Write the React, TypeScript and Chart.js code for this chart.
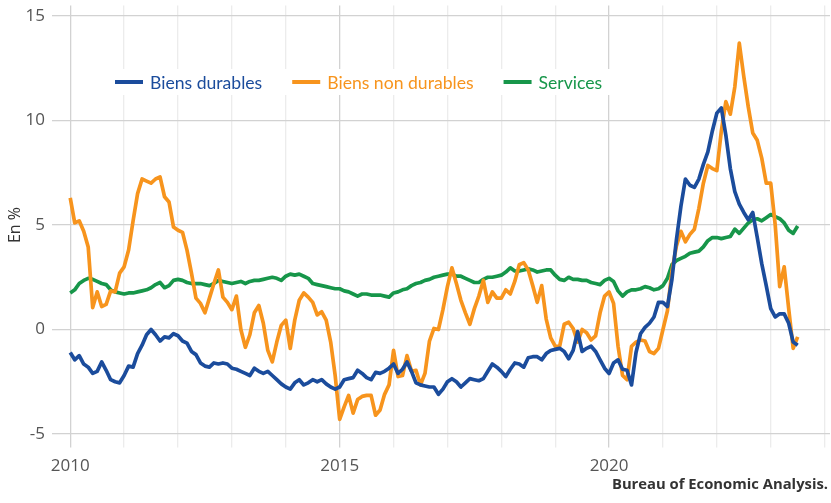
import React, { useEffect, useRef } from "react";
import { Chart, registerables } from "chart.js";

Chart.register(...registerables);

// Monthly year-over-year change, Jan 2010 onwards
const startYear = 2010;

const durables = [
  -1.1, -1.45, -1.25, -1.65, -1.8, -2.1, -2.0, -1.55, -1.95, -2.4, -2.5, -2.55,
  -2.2, -1.75, -1.8, -1.15, -0.75, -0.25, 0.0, -0.25, -0.55, -0.35, -0.4, -0.2,
  -0.3, -0.55, -0.65, -1.05, -1.2, -1.6, -1.75, -1.8, -1.6, -1.65, -1.6, -1.65,
  -1.85, -1.9, -2.0, -2.1, -2.2, -1.85, -2.0, -2.1, -2.0, -2.2, -2.4, -2.6,
  -2.75, -2.85, -2.55, -2.4, -2.65, -2.55, -2.4, -2.5, -2.4, -2.6, -2.75, -2.85,
  -2.75, -2.4, -2.35, -2.3, -1.95, -2.1, -2.3, -2.4, -2.05, -2.1, -2.0, -1.85,
  -1.65, -2.1, -1.9, -1.55, -2.0, -2.55, -2.65, -2.7, -2.75, -2.75, -3.1, -2.85,
  -2.5, -2.35, -2.5, -2.75, -2.55, -2.35, -2.4, -2.45, -2.35, -2.0, -1.65, -1.8,
  -2.0, -2.25, -1.9, -1.6, -1.65, -1.8, -1.35, -1.3, -1.3, -1.45, -1.15, -1.0,
  -0.95, -0.9, -1.05, -1.4, -1.0, -0.1, -1.05, -0.9, -0.8, -1.05, -1.45, -1.85,
  -2.1, -1.6, -1.45, -1.9, -1.95, -2.65, -1.1, -0.2, 0.1, 0.3, 0.6, 1.3,
  1.3, 1.1, 2.4, 4.3, 5.9, 7.2, 6.9, 6.8, 7.2, 7.9, 8.5, 9.5,
  10.35, 10.6, 9.3, 7.7, 6.6, 6.0, 5.6, 5.25, 5.6, 4.4, 3.15, 2.1,
  1.0, 0.6, 0.75, 0.75, 0.3, -0.6, -0.75,
];

const nonDurables = [
  6.3, 5.1, 5.2, 4.7, 3.95, 1.05, 1.8, 1.1, 1.2, 1.85, 1.8, 2.7,
  3.0, 3.8, 5.2, 6.5, 7.2, 7.1, 7.0, 7.2, 7.3, 6.35, 6.1, 4.9,
  4.75, 4.65, 3.8, 2.7, 1.5, 1.25, 0.8, 1.5, 2.2, 2.85, 1.55, 1.3,
  0.95, 1.6, 0.0, -0.85, -0.25, 0.8, 1.15, 0.3, -1.0, -1.55, -0.6, 0.2,
  0.45, -0.9, 0.45, 1.4, 1.75, 1.55, 1.3, 0.7, 0.85, 0.45, -0.6, -2.2,
  -4.3, -3.7, -3.15, -4.0, -3.35, -3.2, -3.15, -3.15, -4.1, -3.85, -3.1, -2.65,
  -1.0, -2.25, -2.2, -1.25, -2.0, -1.95, -2.65, -2.1, -0.55, 0.05, 0.0, 0.95,
  2.05, 2.95, 2.2, 1.4, 0.8, 0.25, 1.0, 1.6, 2.35, 1.3, 1.8, 1.5,
  1.5, 1.9, 1.7, 2.3, 3.1, 3.2, 2.85, 2.1, 1.3, 2.1, 0.5, -0.4,
  -0.8, -0.8, 0.25, 0.35, 0.05, -0.6, 0.0, -0.15, -0.5, -0.3, 0.8, 1.6,
  1.8, 1.25, -0.8, -2.2, -2.4, -0.8, -0.6, -0.5, -0.55, -1.05, -1.15, -0.9,
  0.0, 0.9, 2.8, 4.0, 4.7, 4.2, 4.55, 4.8, 5.8, 7.0, 7.85, 7.7,
  7.6, 9.5, 10.9, 10.3, 11.6, 13.7, 12.1, 10.65, 9.4, 9.05, 8.2, 7.0,
  7.0, 5.0, 2.05, 3.0, 1.0, -0.9, -0.35,
];

const services = [
  1.75, 1.9, 2.2, 2.35, 2.45, 2.4, 2.3, 2.2, 2.15, 1.9, 1.8, 1.75,
  1.7, 1.75, 1.75, 1.8, 1.85, 1.9, 2.0, 2.15, 2.25, 2.0, 2.1, 2.35,
  2.4, 2.35, 2.25, 2.2, 2.2, 2.2, 2.15, 2.1, 2.2, 2.35, 2.3, 2.25,
  2.2, 2.25, 2.3, 2.2, 2.3, 2.35, 2.35, 2.4, 2.45, 2.5, 2.45, 2.35,
  2.55, 2.65, 2.6, 2.65, 2.55, 2.45, 2.2, 2.15, 2.1, 2.05, 2.0, 1.95,
  1.95, 1.85, 1.8, 1.7, 1.6, 1.7, 1.7, 1.65, 1.65, 1.65, 1.6, 1.55,
  1.75, 1.8, 1.9, 1.95, 2.1, 2.2, 2.25, 2.35, 2.4, 2.5, 2.55, 2.6,
  2.65, 2.65, 2.55, 2.55, 2.45, 2.35, 2.25, 2.25, 2.4, 2.5, 2.5, 2.55,
  2.6, 2.75, 2.95, 2.8, 2.8, 2.85, 2.9, 2.85, 2.75, 2.8, 2.85, 2.85,
  2.6, 2.4, 2.35, 2.5, 2.4, 2.4, 2.35, 2.35, 2.25, 2.2, 2.15, 2.35,
  2.45, 2.3, 1.85, 1.6, 1.8, 1.9, 1.9, 1.95, 2.05, 2.0, 1.9, 1.95,
  2.1, 2.45, 3.1, 3.3, 3.4, 3.5, 3.65, 3.7, 3.75, 3.95, 4.25, 4.4,
  4.4, 4.35, 4.4, 4.45, 4.8, 4.6, 4.85, 5.1, 5.25, 5.3, 5.2, 5.35,
  5.5, 5.4, 5.3, 5.1, 4.75, 4.6, 4.95,
];

const seriesNames = ["Biens durables", "Biens non durables", "Services"];
const seriesColors = ["#1b4c9c", "#f7941d", "#17964a"];
const yearTicks = [2010, 2011, 2012, 2013, 2014, 2015, 2016, 2017, 2018, 2019, 2020, 2021, 2022, 2023, 2024];
const labeledYears = [2010, 2015, 2020];
const yTicks = [-5, 0, 5, 10, 15];
const yTitle = "En %";
const sourceText = "Bureau of Economic Analysis.";

const toPoints = (vals: number[]) =>
  vals.map((v, i) => ({ x: startYear + i / 12, y: v }));

const legendPlugin = {
  id: "customLegend",
  afterDraw(chart: any) {
    const { ctx, chartArea } = chart;
    ctx.save();
    ctx.font = '17.6px "Lato"';
    const y = 82;
    let x = chartArea.left + 55;
    const startX = x;
    let total = 0;
    seriesNames.forEach((n, i) => {
      total += 28 + 7 + ctx.measureText(n).width + (i < seriesNames.length - 1 ? 30 : 0);
    });
    ctx.fillStyle = "#ffffff";
    ctx.fillRect(startX - 8, y - 13, total + 18, 26);
    seriesNames.forEach((n, i) => {
      ctx.fillStyle = seriesColors[i];
      ctx.fillRect(x, y - 2, 28, 4);
      x += 35;
      ctx.textBaseline = "middle";
      ctx.textAlign = "left";
      ctx.fillText(n, x, y + 1);
      x += ctx.measureText(n).width + 30;
    });
    ctx.font = 'bold 14.8px "Open Sans"';
    ctx.fillStyle = "#333333";
    ctx.textAlign = "right";
    ctx.textBaseline = "middle";
    ctx.fillText(sourceText, chart.width - 3, 485);
    ctx.restore();
  },
};

export default function App() {
  const canvasRef = useRef<HTMLCanvasElement | null>(null);

  useEffect(() => {
    if (!canvasRef.current) return;
    const datasets = [durables, nonDurables, services].map((vals, i) => ({
      label: seriesNames[i],
      data: toPoints(vals),
      borderColor: seriesColors[i],
      backgroundColor: seriesColors[i],
      borderWidth: 3.7,
      pointRadius: 0,
      tension: 0,
      fill: false,
      borderJoinStyle: "round" as const,
    }));
    const chart = new Chart(canvasRef.current, {
      type: "line",
      data: { datasets },
      plugins: [legendPlugin],
      options: {
        animation: false,
        responsive: false,
        devicePixelRatio: 1,
        layout: { padding: { top: 5.5, right: 1, bottom: 27.5, left: 0 } },
        plugins: {
          legend: { display: false },
          tooltip: { enabled: false },
        },
        scales: {
          x: {
            type: "linear",
            min: 2009.81,
            max: 2024.1,
            afterBuildTicks: (s: any) => {
              s.ticks = yearTicks.map((v) => ({ value: v }));
            },
            afterFit: (s: any) => {
              s.height = 31;
              s.paddingLeft = 0;
              s.paddingRight = 0;
            },
            ticks: {
              autoSkip: false,
              maxRotation: 0,
              padding: 8,
              color: "#555555",
              font: { family: "Open Sans", size: 17 },
              callback: (v: any) => (labeledYears.includes(Number(v)) ? String(v) : ""),
            },
            grid: {
              color: (c: any) =>
                c.tick && labeledYears.includes(c.tick.value) ? "#d2d2d2" : "#ececec",
              lineWidth: 1.3,
              tickLength: 3,
            },
            border: { display: false },
          },
          y: {
            type: "linear",
            min: -5.5,
            max: 15.5,
            afterBuildTicks: (s: any) => {
              s.ticks = yTicks.map((v) => ({ value: v }));
            },
            afterFit: (s: any) => {
              s.width = 60;
              s.paddingTop = 0;
              s.paddingBottom = 0;
            },
            ticks: {
              padding: 7,
              color: "#555555",
              font: { family: "Open Sans", size: 17 },
            },
            grid: { color: "#d2d2d2", lineWidth: 1.3, tickLength: 8 },
            border: { display: false },
            title: {
              display: true,
              text: yTitle,
              color: "#333333",
              font: { family: "Open Sans", size: 16 },
              padding: { top: 6, bottom: 0 },
            },
          },
        },
      },
    });
    return () => chart.destroy();
  }, []);

  return (
    <div style={{ position: "fixed", left: 0, top: 0, width: 831, height: 503, background: "#fff" }}>
      <canvas ref={canvasRef} width={831} height={503} style={{ width: 831, height: 503 }} />
    </div>
  );
}
